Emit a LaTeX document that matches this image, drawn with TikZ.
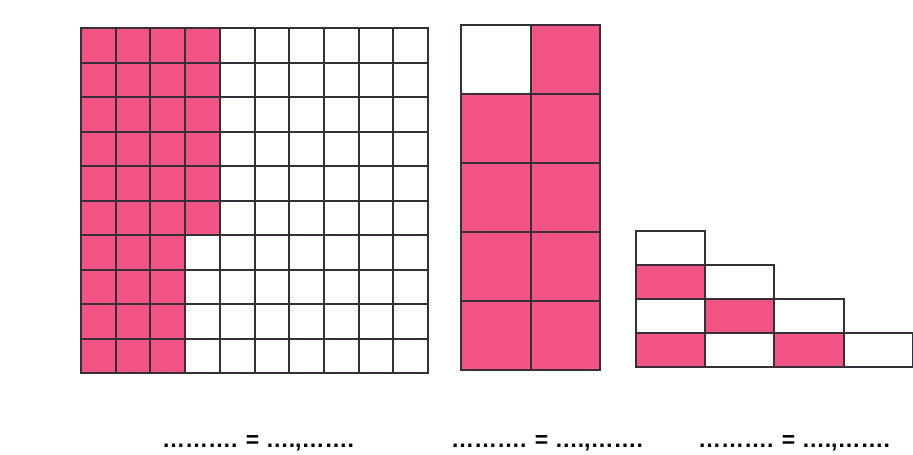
\documentclass[tikz,border=0pt]{standalone}
\usepackage{fontspec}
\setmainfont{Liberation Sans}
\usepackage{tikz}
\usetikzlibrary{positioning}
\definecolor{cellpink}{RGB}{242,84,132}
\definecolor{griddark}{RGB}{56,46,58}
\tikzset{
  cell/.style={draw=griddark, line width=2pt, fill=white},
  pinkcell/.style={cell, fill=cellpink},
  answer/.style={font=\fontsize{23}{27}\selectfont\bfseries, anchor=base, inner sep=0pt}
}

\begin{document}
\begin{tikzpicture}[x=1pt, y=-1pt]
  \useasboundingbox (0,0) rectangle (913,455);

  % Hundred grid: 36 of 100
  \foreach \c in {0,...,9} {
    \foreach \r in {0,...,9} {
      \pgfmathsetmacro{\lim}{\r<6 ? 4 : 3}
      \ifnum\c<\lim\relax
        \draw[pinkcell] ({81+34.7*\c},{28+34.5*\r}) rectangle ++(34.7,34.5);
      \else
        \draw[cell] ({81+34.7*\c},{28+34.5*\r}) rectangle ++(34.7,34.5);
      \fi
    }
  }

  % Tenth grid: 9 of 10
  \foreach \c in {0,1} {
    \foreach \r in {0,...,4} {
      \pgfmathsetmacro{\blank}{(\c==0 && \r==0) ? 1 : 0}
      \ifdim\blank pt>0.5pt
        \draw[cell] ({461+69.5*\c},{25+69*\r}) rectangle ++(69.5,69);
      \else
        \draw[pinkcell] ({461+69.5*\c},{25+69*\r}) rectangle ++(69.5,69);
      \fi
    }
  }

  % Staircase: 4 of 10
  \foreach \r in {0,...,3} {
    \foreach \c in {0,...,\r} {
      \draw[cell] ({636+69.2*\c},{231+34*\r}) rectangle ++(69.2,34);
    }
  }
  \foreach \c/\r in {0/1, 1/2, 0/3, 2/3}
    \draw[pinkcell] ({636+69.2*\c},{231+34*\r}) rectangle ++(69.2,34);

  % Answer lines
  \node[answer] (ansA) at (258,447) {………. = ….,…….};
  \node[answer] (ansB) at (547,447) {………. = ….,…….};
  \node[answer] (ansC) at (794,447) {………. = ….,…….};
\end{tikzpicture}
\end{document}
